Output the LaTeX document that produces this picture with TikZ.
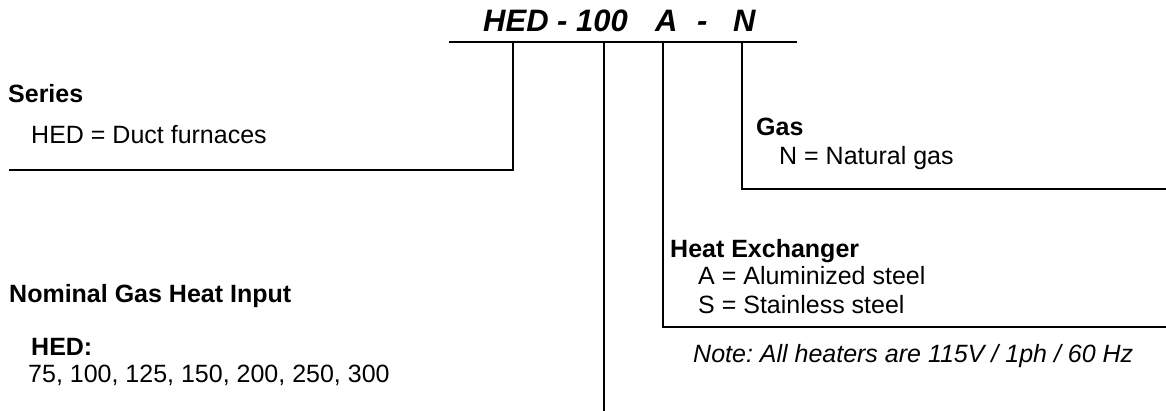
\documentclass[tikz,border=0pt]{standalone}
\usepackage{fontspec}
\setmainfont{Liberation Sans}
\frenchspacing
\tikzset{
  txt/.style={anchor=base west, inner sep=0pt, font=\fontsize{25}{30}\selectfont},
  head/.style={txt, font=\fontsize{25}{30}\selectfont\bfseries},
  ttl/.style={anchor=base west, inner sep=0pt, font=\fontsize{31}{36}\selectfont\bfseries\itshape},
  ln/.style={line width=1.6pt, black}
}
\begin{document}
\begin{tikzpicture}[x=1pt,y=-1pt]
\useasboundingbox (0,0) rectangle (1166,411);
% title
\node[ttl] (t1) at (483,32) {HED - 100};
\node[ttl] (t2) at (655,32) {A};
\node[ttl] (t3) at (697,32) {-};
\node[ttl] (t4) at (733,32) {N};
% underline and branch points
\coordinate (uL) at (449,42);
\coordinate (uR) at (797,42);
\coordinate (bS) at (513,42);
\coordinate (bC) at (604,42);
\coordinate (bA) at (663,42);
\coordinate (bN) at (742,42);
\coordinate (eS) at (9,170);
\coordinate (eC) at (604,411);
\coordinate (eA) at (1166,327);
\coordinate (eN) at (1166,189);
\draw[ln] (uL) -- (uR);
\draw[ln] (bS) |- (eS);
\draw[ln] (bC) -- (eC);
\draw[ln] (bA) |- (eA);
\draw[ln] (bN) |- (eN);
% texts
\node[head] (series) at (8,103) {Series};
\node[txt] (seriesv) at (31,144) {HED = Duct furnaces};
\node[head] (gas) at (756,136) {Gas};
\node[txt] (gasv) at (779,165) {N = Natural gas};
\node[head] (hx) at (670,258) {Heat Exchanger};
\node[txt] (hxa) at (698,285) {A = Aluminized steel};
\node[txt] (hxs) at (698,313) {S = Stainless steel};
\node[head] (nom) at (9,302) {Nominal Gas Heat Input};
\node[head] (hed) at (31,355) {HED:};
\node[txt] (vals) at (28,382) {75, 100, 125, 150, 200, 250, 300};
\node[txt, font=\fontsize{25}{30}\selectfont\itshape] (note) at (693,362) {Note: All heaters are 115V / 1ph / 60 Hz};
\end{tikzpicture}
\end{document}
